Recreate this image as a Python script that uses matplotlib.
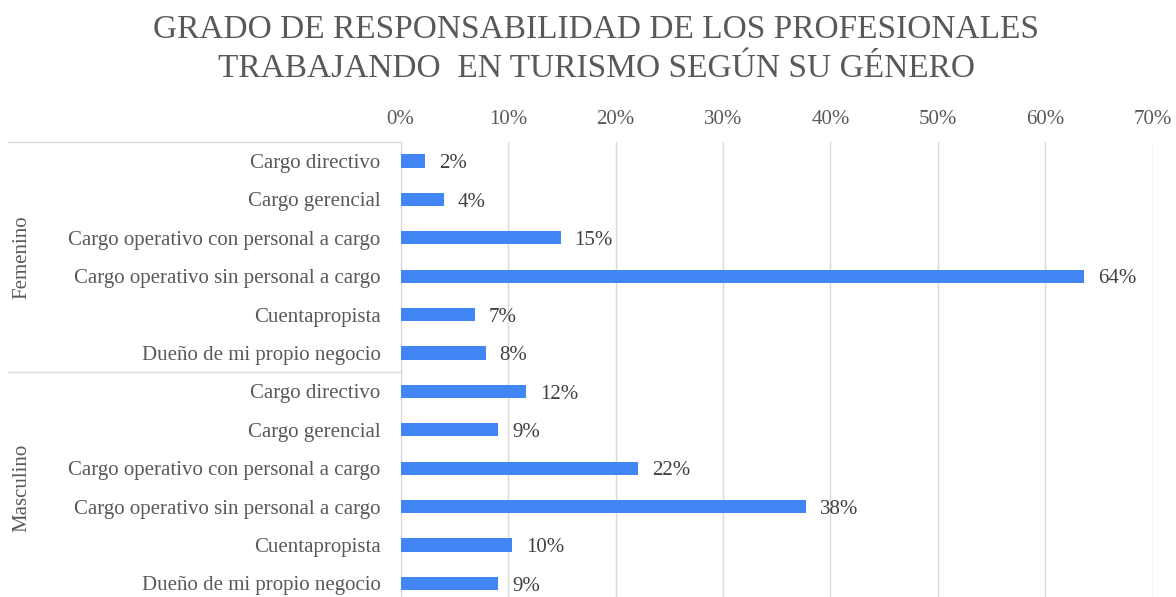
import numpy as np
import matplotlib.pyplot as plt
import matplotlib.transforms as mtransforms

plt.rcParams['font.family'] = ['Liberation Serif', 'DejaVu Serif']

# Datos
cargos = ["Cargo directivo", "Cargo gerencial", "Cargo operativo con personal a cargo",
          "Cargo operativo sin personal a cargo", "Cuentapropista", "Dueño de mi propio negocio"]
generos = ["Femenino", "Masculino"]
femenino = [2.3, 4.0, 14.9, 63.6, 6.9, 7.9]
masculino = [11.7, 9.1, 22.1, 37.7, 10.4, 9.1]
ticks_x = [0, 10, 20, 30, 40, 50, 60, 70]

gris = "#595959"
azul = "#4285f4"
fs = 15

valores = femenino + masculino
etiquetas = cargos + cargos
pos = np.arange(len(valores))

fig = plt.figure(figsize=(11.76, 5.97), dpi=100)
ax = fig.add_axes([0.3407, -0.0094, 0.6395, 0.7719])

ax.barh(pos, valores, height=0.34, color=azul, zorder=3)
ax.set_ylim(len(valores) - 0.5, -0.5)
ax.set_xlim(0, 70)

ax.xaxis.tick_top()
ax.set_xticks(ticks_x)
ax.set_xticklabels([f"{t}%" for t in ticks_x])
ax.tick_params(axis='x', length=0, pad=9, labelsize=fs, colors=gris)
ax.set_yticks(pos)
ax.set_yticklabels(etiquetas)
ax.tick_params(axis='y', length=0, pad=14.5, labelsize=fs, colors=gris)
ax.grid(axis='x', color='#d9d9d9', linewidth=1, zorder=0)

for s in ['top', 'right', 'bottom']:
    ax.spines[s].set_visible(False)
ax.spines['left'].set_color('#d9d9d9')

for p, v in zip(pos, valores):
    ax.annotate(f"{round(v)}%", (v, p), xytext=(10, -2), textcoords='offset points',
                va='center', ha='left', fontsize=fs, color='#404040')

# separadores y etiquetas de grupo
trans = mtransforms.blended_transform_factory(ax.transAxes, ax.transData)
x_izq = -(400.7 - 8) / (0.6395 * 1176)
for y in [-0.5, 5.5]:
    ax.plot([x_izq, 0], [y, y], transform=trans, color='#d9d9d9', lw=1, clip_on=False)
for i, g in enumerate(generos):
    ax.text(-(400.7 - 22) / (0.6395 * 1176), i * 6 + 2.5, g, transform=trans, rotation=90,
            ha='center', va='center', fontsize=fs, color=gris)

fig.suptitle("GRADO DE RESPONSABILIDAD DE LOS PROFESIONALES\nTRABAJANDO  EN TURISMO SEGÚN SU GÉNERO",
             x=0.507, y=0.975, fontsize=24, color=gris, linespacing=1.33)

fig.savefig("out.png", dpi=100)
